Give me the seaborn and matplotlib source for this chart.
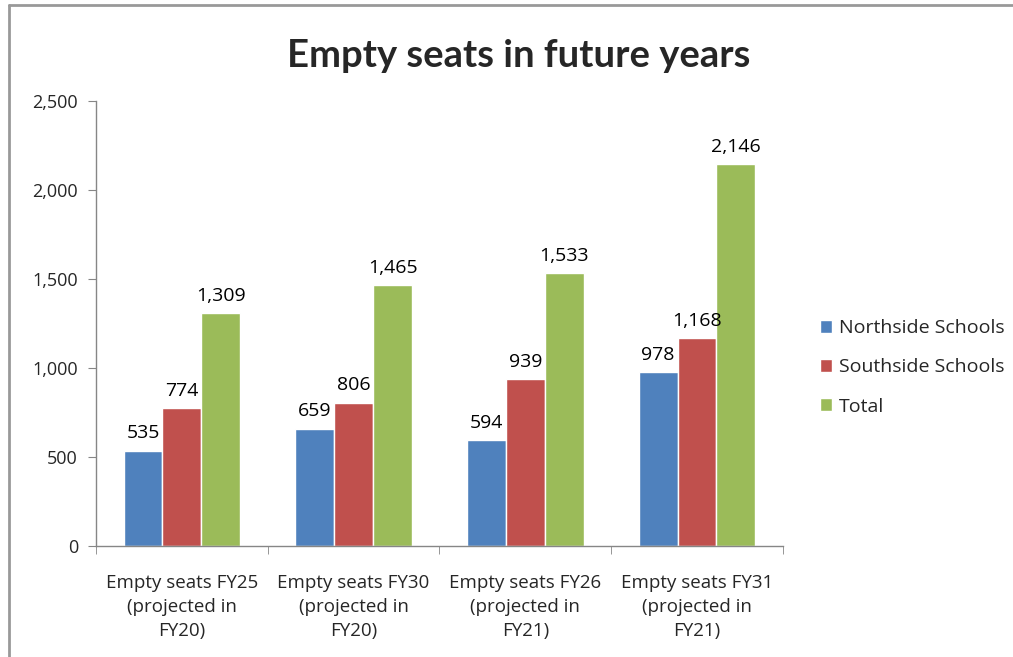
import pandas as pd
import numpy as np
import matplotlib.pyplot as plt
import seaborn as sns
from matplotlib.lines import Line2D

sns.set_style('white')
plt.rcParams['font.family'] = ['Open Sans', 'DejaVu Sans']

# data
categories = ['Empty seats FY25\n(projected in\nFY20)',
              'Empty seats FY30\n(projected in\nFY20)',
              'Empty seats FY26\n(projected in\nFY21)',
              'Empty seats FY31\n(projected in\nFY21)']
northside = [535, 659, 594, 978]
southside = [774, 806, 939, 1168]
total = [1309, 1465, 1533, 2146]
series = ['Northside Schools', 'Southside Schools', 'Total']
colors = ['#4F81BD', '#C0504D', '#9BBB59']

df = pd.DataFrame({
    'Category': categories * 3,
    'Series': np.repeat(series, len(categories)),
    'Seats': northside + southside + total,
})

fig = plt.figure(figsize=(10.13, 6.57), dpi=100)
ax = fig.add_axes([0.0948, 0.169, 0.678, 0.677])

sns.barplot(data=df, x='Category', y='Seats', hue='Series', palette=colors,
            width=0.68, saturation=1, ax=ax, legend=True)

for cont in ax.containers:
    ax.bar_label(cont, labels=[f'{v:,.0f}' for v in cont.datavalues],
                 padding=6, fontsize=14, color='black')

ax.set_ylim(0, 2500)
ax.set_xlim(-0.5, 3.5)
ax.set_yticks(range(0, 2501, 500))
ax.set_yticklabels([f'{v:,}' for v in range(0, 2501, 500)], fontsize=13)
ax.set_xticks(range(4))
ax.set_xticklabels(categories, fontsize=13.5, linespacing=1.45)
ax.set_xticks(np.arange(-0.5, 4, 1), minor=True)
ax.tick_params(axis='x', which='major', length=0, pad=20)
ax.tick_params(axis='x', which='minor', length=6, color='#868686', direction='out', bottom=True)
ax.tick_params(axis='y', length=6, color='#868686', direction='out', left=True, pad=7)
ax.set_xlabel('')
ax.set_ylabel('')
for s in ['top', 'right']:
    ax.spines[s].set_visible(False)
for s in ['left', 'bottom']:
    ax.spines[s].set_color('#868686')
    ax.spines[s].set_linewidth(1)

fig.suptitle('Empty seats in future years', x=0.512, y=0.94, fontsize=27.5,
             fontweight='bold', family=['Lato', 'DejaVu Sans'])

handles, labels = ax.get_legend_handles_labels()
ax.legend(handles, labels, loc='center left', bbox_to_anchor=(0.792, 0.441),
          bbox_transform=fig.transFigure, frameon=False, fontsize=14,
          handlelength=0.65, handleheight=0.65, handletextpad=0.35,
          labelspacing=1.1)

# outer chart frame (left and top edges visible)
fig.add_artist(Line2D([0.009, 0.009], [0, 0.992], color='#999999', lw=2,
                      transform=fig.transFigure))
fig.add_artist(Line2D([0.009, 1], [0.992, 0.992], color='#999999', lw=2,
                      transform=fig.transFigure))

fig.savefig('out.png', dpi=100)
